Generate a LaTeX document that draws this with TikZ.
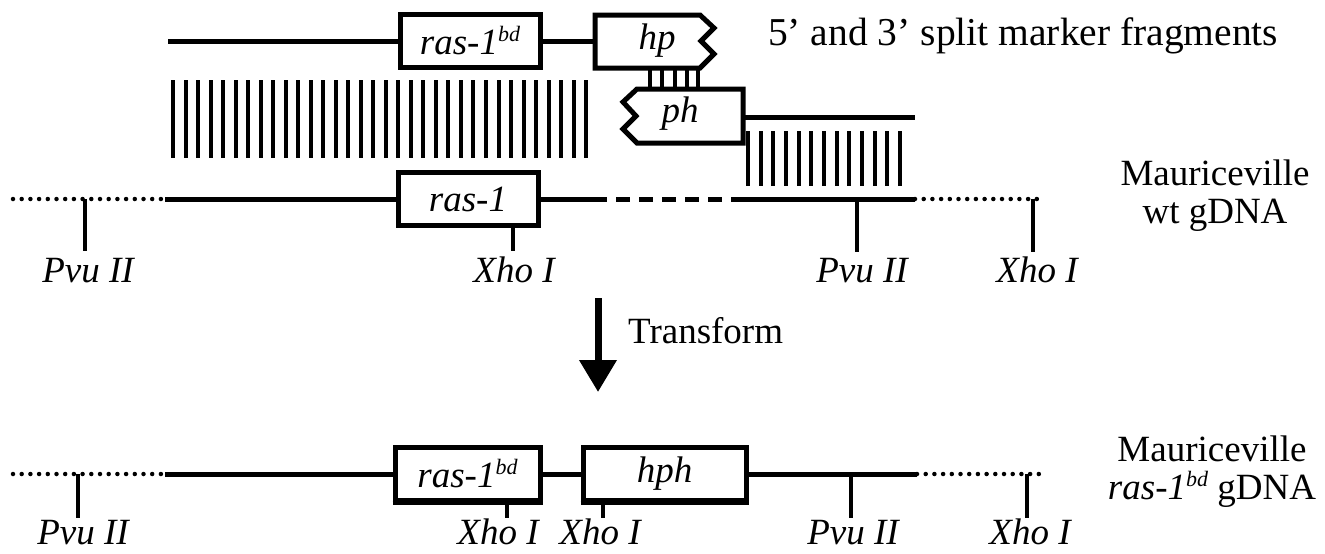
\documentclass[tikz,border=0pt]{standalone}
\usepackage{fontspec}
\setmainfont{Liberation Serif}
\usetikzlibrary{arrows.meta}
\newcommand{\bigfs}{\fontsize{37}{38}\selectfont}
\newcommand{\sups}[1]{\raisebox{13pt}{\fontsize{22}{22}\selectfont #1}}
\begin{document}
\begin{tikzpicture}[x=1pt,y=-1pt,
 dna/.style={line width=5pt},
 dotdna/.style={line width=4.5pt,line cap=round,dash pattern=on 0pt off 8.7pt},
 dashdna/.style={line width=5pt,dash pattern=on 14pt off 9pt},
 cut/.style={line width=4.5pt},
 hyb/.style={line width=4pt},
 gene/.style={draw,line width=5pt,fill=white,minimum height=53pt,inner sep=0pt,font=\bigfs\itshape},
 frag/.style={draw,line width=5pt,fill=white,line join=miter},
 lab/.style={font=\bigfs\itshape,inner sep=0pt,anchor=base},
 txt/.style={font=\bigfs,inner sep=0pt,anchor=base}]
\fill[white] (0,0) rectangle (1325,554);
\useasboundingbox (0,0) rectangle (1325,554);

% ---------- top row: split marker fragments ----------
\coordinate (t0) at (168,41);
\node[gene,minimum width=140pt] (rbdT) at (470,41) {ras-1\sups{bd}};
\draw[frag] (595,15) -- (700,15) -- (714,28) -- (701,41) -- (714,54) -- (700,68) -- (595,68) -- cycle;
\node[font=\bigfs\itshape,inner sep=0pt] (hp) at (657,41) {hp};
\coordinate (hpW) at (595,41);
\draw[dna] (t0) -- (rbdT.west);
\draw[dna] (rbdT.east) -- (hpW);
\node[txt,anchor=base west,font=\fontsize{39.5}{40}\selectfont] (title) at (768,45) {5’ and 3’ split marker fragments};

% hybridisation between hp and ph
\foreach \x in {650,662,675,687,698} \draw[hyb] (\x,68) -- (\x,89);

\draw[frag] (743,89) -- (637,89) -- (623,102) -- (636,116) -- (623,129) -- (637,143) -- (743,143) -- cycle;
\node[font=\bigfs\itshape,inner sep=0pt] (ph) at (680,114) {ph};
\coordinate (phE) at (743,117);
\coordinate (phT) at (915,117);
\draw[dna] (phE) -- (phT);

% homology ticks
\foreach \i in {0,...,33} \draw[hyb] ({173+12.52*\i},80) -- ({173+12.52*\i},158);
\foreach \i in {0,...,12} \draw[hyb] ({748+12.67*\i},131) -- ({748+12.67*\i},186);

% ---------- middle row: wt gDNA ----------
\coordinate (m0) at (13,199);
\coordinate (m1) at (165,199);
\node[gene,minimum width=140pt] (ras) at (468,199) {ras-1};
\coordinate (m2) at (593,199);
\coordinate (m3) at (738,199);
\coordinate (m5) at (915,199);
\coordinate (m6) at (1045,199);
\draw[dotdna] (m0) -- (m1);
\draw[dna] (m1) -- (ras.west);
\draw[dna] (ras.east) -- (m2);
\draw[dashdna] (m2) -- (m3);
\draw[dna] (m3) -- (m5);
\draw[dotdna] (m5) -- (m6);
\draw[cut] (85,199) -- (85,251);
\draw[cut] (513,225) -- (513,251);
\draw[cut] (857,199) -- (857,252);
\draw[cut] (1033,199) -- (1033,252);
\node[lab] (p1) at (88,282) {Pvu II};
\node[lab] (x1) at (514,282) {Xho I};
\node[lab] (p2) at (862,282) {Pvu II};
\node[lab] (x2) at (1037,282) {Xho I};
\node[txt] (mw1) at (1215,185) {Mauriceville};
\node[txt] (mw2) at (1215,223) {wt gDNA};

% ---------- transform arrow ----------
\coordinate (as) at (598,298);
\coordinate (ae) at (598,392);
\draw[line width=7pt,-{Triangle[width=36pt,length=32pt]}] (as) -- (ae);
\node[txt,anchor=base west] (tr) at (628,343) {Transform};

% ---------- bottom row: ras-1bd gDNA ----------
\coordinate (b0) at (13,474);
\coordinate (b1) at (165,474);
\node[gene,minimum width=145pt] (rbdB) at (467.5,474) {ras-1\sups{bd}};
\node[gene,minimum width=163pt] (hph) at (664.5,474) {hph};
\draw[line width=4pt] (rbdB.south west) -- (rbdB.south east);
\draw[line width=4pt] (hph.south west) -- (hph.south east);
\coordinate (b5) at (917,474);
\coordinate (b6) at (1045,474);
\draw[dotdna] (b0) -- (b1);
\draw[dna] (b1) -- (rbdB.west);
\draw[dna] (rbdB.east) -- (hph.west);
\draw[dna] (hph.east) -- (b5);
\draw[dotdna] (b5) -- (b6);
\draw[cut] (78,474) -- (78,518);
\draw[cut] (507,503) -- (507,518);
\draw[cut] (603,503) -- (603,518);
\draw[cut] (851,474) -- (851,518);
\draw[cut] (1027,474) -- (1027,518);
\node[lab] (p3) at (83,544) {Pvu II};
\node[lab] (x3) at (498,544) {Xho I};
\node[lab] (x4) at (600,544) {Xho I};
\node[lab] (p4) at (853,544) {Pvu II};
\node[lab] (x5) at (1030,544) {Xho I};
\node[txt] (mb1) at (1212,461) {Mauriceville};
\node[txt] (mb2) at (1212,499) {\textit{ras-1\sups{bd}} gDNA};
\end{tikzpicture}
\end{document}
